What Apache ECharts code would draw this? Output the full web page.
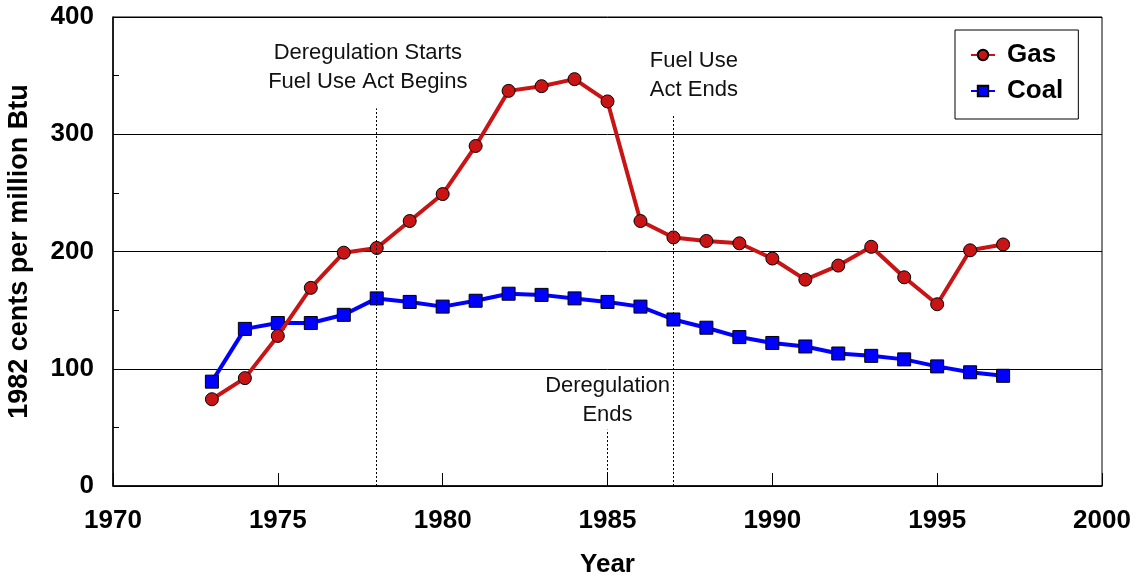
<!DOCTYPE html>
<html>
<head>
<meta charset="utf-8">
<script src="https://cdn.jsdelivr.net/npm/echarts@6/dist/echarts.min.js"></script>
<style>
  html, body { margin: 0; padding: 0; background: #fff; }
  #main { width: 1143px; height: 584px; }
</style>
</head>
<body>
<div id="main"></div>
<script>
var years = [1973, 1974, 1975, 1976, 1977, 1978, 1979, 1980, 1981, 1982, 1983, 1984, 1985,
             1986, 1987, 1988, 1989, 1990, 1991, 1992, 1993, 1994, 1995, 1996, 1997];
var gas = [74, 92, 128, 169, 199, 203, 226, 249, 290, 337, 341, 347, 328,
           226, 212, 209, 207, 194, 176, 188, 204, 178, 155, 201, 206];
var coal = [89, 134, 139, 139, 146, 160, 157, 153, 158, 164, 163, 160, 157,
            153, 142, 135, 127, 122, 119, 113, 111, 108, 102, 97, 94];

// annotation events: year, how high the dotted line reaches, label lines
var eventYears = [1978, 1987, 1985];
var eventTops = [322, 317, 48];
var eventLabels = [
    ['Deregulation Starts', 'Fuel Use Act Begins'],
    ['Fuel Use', 'Act Ends'],
    ['Deregulation', 'Ends']
];
// label anchor in data coords (center of the two text lines)
var labelPos = [[1977.73, 357], [1987.62, 350], [1985, 73]];

var myChart = echarts.init(document.getElementById('main'));

function pairs(ys) {
    return years.map(function (y, i) { return [y, ys[i]]; });
}

var markLines = eventYears.map(function (y, i) {
    return [{coord: [y, 0]}, {coord: [y, eventTops[i]]}];
});

var font = 'Liberation Sans, Arial, sans-serif';

var option = {
    animation: false,
    textStyle: {fontFamily: font},
    grid: {
        left: 113, right: 41, top: 17, bottom: 98,
        outerBoundsMode: 'none',
        show: true, borderColor: '#000', borderWidth: 1
    },
    legend: {
        data: ['Gas', 'Coal'],
        orient: 'vertical',
        left: 955, top: 30,
        padding: [12, 15, 15, 15],
        itemGap: 10,
        itemWidth: 24, itemHeight: 13,
        borderColor: '#000', borderWidth: 1,
        backgroundColor: '#fff',
        textStyle: {fontSize: 26, fontWeight: 'bold', color: '#000', fontFamily: font,
                    padding: [0, 0, 0, 7]}
    },
    xAxis: {
        type: 'value',
        min: 1970, max: 2000, interval: 5,
        name: 'Year',
        nameLocation: 'middle',
        nameGap: 66,
        nameTextStyle: {fontSize: 26, fontWeight: 'bold', color: '#000'},
        axisLine: {lineStyle: {color: '#000', width: 1.5}},
        axisTick: {inside: true, length: 13, lineStyle: {color: '#000'}},
        axisLabel: {fontSize: 26, fontWeight: 'bold', color: '#000', margin: 22,
                    formatter: function (v) { return String(v); }},
        splitLine: {show: false}
    },
    yAxis: {
        type: 'value',
        min: 0, max: 400, interval: 100,
        name: '1982 cents per million Btu',
        nameLocation: 'middle',
        nameGap: 80,
        nameTextStyle: {fontSize: 27, fontWeight: 'bold', color: '#000'},
        axisLine: {show: true, lineStyle: {color: '#000', width: 1.5}},
        axisTick: {show: true, inside: true, length: 6, lineStyle: {color: '#000'}},
        minorTick: {show: true, splitNumber: 2, length: 6, lineStyle: {color: '#000'}},
        axisLabel: {fontSize: 26, fontWeight: 'bold', color: '#000', margin: 19},
        splitLine: {show: true, lineStyle: {color: '#000', width: 1}}
    },
    series: [
        {
            name: 'Gas',
            type: 'line',
            data: pairs(gas),
            symbol: 'circle',
            symbolSize: 13,
            lineStyle: {color: '#c81414', width: 4},
            itemStyle: {color: '#c81414', borderColor: '#000', borderWidth: 1},
            z: 3,
            markLine: {
                silent: true,
                symbol: 'none',
                label: {show: false},
                lineStyle: {color: '#000', type: [2, 2], width: 1},
                data: markLines
            }
        },
        {
            name: 'Coal',
            type: 'line',
            data: pairs(coal),
            symbol: 'rect',
            symbolSize: 13,
            lineStyle: {color: '#0000ff', width: 4},
            itemStyle: {color: '#0000ff', borderColor: '#000', borderWidth: 1},
            z: 2
        }
    ]
};
myChart.setOption(option);

var texts = labelPos.map(function (p, i) {
    var px = myChart.convertToPixel({gridIndex: 0}, p);
    return {
        type: 'text',
        x: px[0], y: px[1],
        style: {
            text: eventLabels[i].join('\n'),
            fill: '#111',
            font: '22px ' + font,
            lineHeight: 29,
            align: 'center',
            verticalAlign: 'middle'
        }
    };
});
myChart.setOption({graphic: texts});
</script>
</body>
</html>
